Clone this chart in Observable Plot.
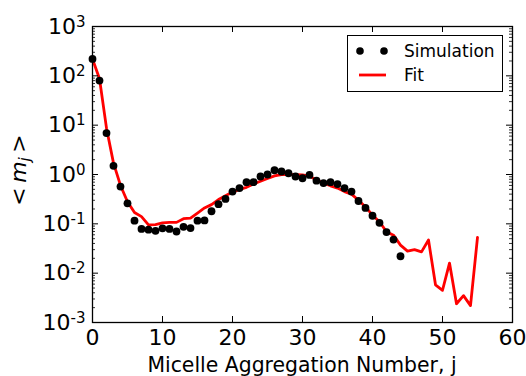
<!DOCTYPE html>
<html>
<head>
<meta charset="utf-8">
<script src="https://cdn.jsdelivr.net/npm/d3@7"></script>
<script src="https://cdn.jsdelivr.net/npm/@observablehq/plot@0.6"></script>
<style>
  html, body { margin: 0; padding: 0; background: white; }
  #wrap { position: relative; width: 526px; height: 376px; font-family: "DejaVu Sans", sans-serif; }
  #legend { position: absolute; left: 347px; top: 35px; width: 156px; height: 57px; border: 1.3px solid black; background: white; box-sizing: border-box; }
</style>
</head>
<body>
<div id="wrap"></div>
<script>
// Simulation points (j = 0..44)
const simJ = d3.range(0, 45);
const simValues = [220, 80, 6.9, 1.5, 0.57, 0.26, 0.116, 0.079, 0.076, 0.072,
  0.081, 0.079, 0.070, 0.087, 0.082, 0.116, 0.117, 0.18, 0.25, 0.32,
  0.45, 0.53, 0.70, 0.70, 0.91, 1.0, 1.22, 1.15, 1.06, 0.91,
  0.84, 0.98, 0.75, 0.67, 0.70, 0.64, 0.53, 0.45, 0.29, 0.21,
  0.146, 0.105, 0.068, 0.048, 0.022];
// Fit line (j = 0..55)
const fitJ = d3.range(0, 56);
const fitValues = [220, 87, 8.7, 1.7, 0.6, 0.28, 0.17, 0.14, 0.095, 0.096,
  0.105, 0.107, 0.107, 0.127, 0.13, 0.165, 0.21, 0.245, 0.31, 0.37,
  0.44, 0.50, 0.55, 0.64, 0.73, 0.83, 0.94, 1.0, 1.0, 0.99,
  0.98, 0.93, 0.77, 0.67, 0.59, 0.53, 0.45, 0.40, 0.30, 0.22,
  0.15, 0.11, 0.069, 0.059, 0.037, 0.028, 0.030, 0.027, 0.047, 0.0058,
  0.0045, 0.016, 0.0024, 0.0035, 0.0022, 0.053];
const xTicks = [0, 10, 20, 30, 40, 50, 60];
const yExponents = [-3, -2, -1, 0, 1, 2, 3];
const yTicks = yExponents.map(e => Math.pow(10, e));
const yMinor = yExponents.slice(0, -1).flatMap(e => d3.range(2, 10).map(m => m * Math.pow(10, e)));
const seriesNames = ["Simulation", "Fit"];
const xLabel = "Micelle Aggregation Number, j";

const sim = simJ.map((j, i) => ({j, v: simValues[i]}));
const fit = fitJ.map((j, i) => ({j, v: fitValues[i]}));

const W = 526, H = 376, mL = 92, mR = 14, mT = 26, mB = 54;
const pw = W - mL - mR, ph = H - mT - mB;
const xInner = xTicks.slice(1, -1);
const yInner = yTicks.slice(1, -1);

const chart = Plot.plot({
  width: W, height: H,
  marginLeft: mL, marginRight: mR, marginTop: mT, marginBottom: mB,
  style: {fontFamily: "DejaVu Sans", fontSize: "22px", background: "white", color: "black"},
  x: {domain: [0, 60]},
  y: {type: "log", domain: [1e-3, 1e3]},
  marks: [
    Plot.line(fit, {x: "j", y: "v", stroke: "#ff0000", strokeWidth: 2.8}),
    Plot.dot(sim, {x: "j", y: "v", r: 3.9, fill: "black", stroke: "none"}),
    // inward ticks
    Plot.tickX(xInner, {x: d => d, insetTop: ph - 6, stroke: "black", strokeWidth: 1}),
    Plot.tickX(xInner, {x: d => d, insetBottom: ph - 6, stroke: "black", strokeWidth: 1}),
    Plot.tickY(yInner, {y: d => d, insetRight: pw - 6, stroke: "black", strokeWidth: 1}),
    Plot.tickY(yInner, {y: d => d, insetLeft: pw - 6, stroke: "black", strokeWidth: 1}),
    Plot.tickY(yMinor, {y: d => d, insetRight: pw - 3, stroke: "black", strokeWidth: 0.8}),
    Plot.tickY(yMinor, {y: d => d, insetLeft: pw - 3, stroke: "black", strokeWidth: 0.8}),
    Plot.frame({stroke: "black", strokeWidth: 1.3}),
    Plot.axisX(xTicks, {anchor: "bottom", tickSize: 0, tickPadding: 7, label: null, fontSize: 22}),
    Plot.axisY(yTicks, {anchor: "left", tickSize: 0, tickPadding: 7, label: null, fontSize: 22,
      tickFormat: d => "10^" + Math.round(Math.log10(d))})
  ]
});

document.getElementById("wrap").appendChild(chart);
const svg = d3.select(chart);
// superscript exponents
svg.selectAll('g[aria-label="y-axis tick label"] text').each(function() {
  const t = d3.select(this);
  const s = t.text();
  const exp = s.split("^")[1];
  t.text("10");
  t.append("tspan").attr("dy", "-0.45em").attr("font-size", "15px").text(exp);
});
// x label
svg.append("text")
  .attr("x", mL + pw / 2).attr("y", 372)
  .attr("text-anchor", "middle")
  .attr("font-size", "20.4px").attr("fill", "black")
  .text(xLabel);
// y label  < m_j >
const yl = svg.append("text")
  .attr("transform", `translate(26,${mT + ph / 2 - 4}) rotate(-90)`)
  .attr("text-anchor", "middle")
  .attr("font-size", "22px").attr("fill", "black");
yl.append("tspan").text("<\u2009");
yl.append("tspan").attr("font-style", "italic").text("m");
yl.append("tspan").attr("font-style", "italic").attr("font-size", "15px").attr("dy", "4").text("j");
yl.append("tspan").attr("dy", "-4").text("\u2009>");

// legend
const legend = d3.select("#wrap").append("div").attr("id", "legend");
const ls = legend.append("svg").attr("width", 154).attr("height", 55)
  .style("position", "absolute").style("left", "0px").style("top", "0px");
ls.append("circle").attr("cx", 12).attr("cy", 15).attr("r", 3.8).attr("fill", "black");
ls.append("circle").attr("cx", 36).attr("cy", 15).attr("r", 3.8).attr("fill", "black");
ls.append("line").attr("x1", 11).attr("x2", 38).attr("y1", 39).attr("y2", 39)
  .attr("stroke", "#ff0000").attr("stroke-width", 2.8);
ls.append("text").attr("x", 56).attr("y", 21).attr("font-size", "17px")
  .attr("font-family", "DejaVu Sans").text(seriesNames[0]);
ls.append("text").attr("x", 56).attr("y", 45).attr("font-size", "17px")
  .attr("font-family", "DejaVu Sans").text(seriesNames[1]);
</script>
</body>
</html>
